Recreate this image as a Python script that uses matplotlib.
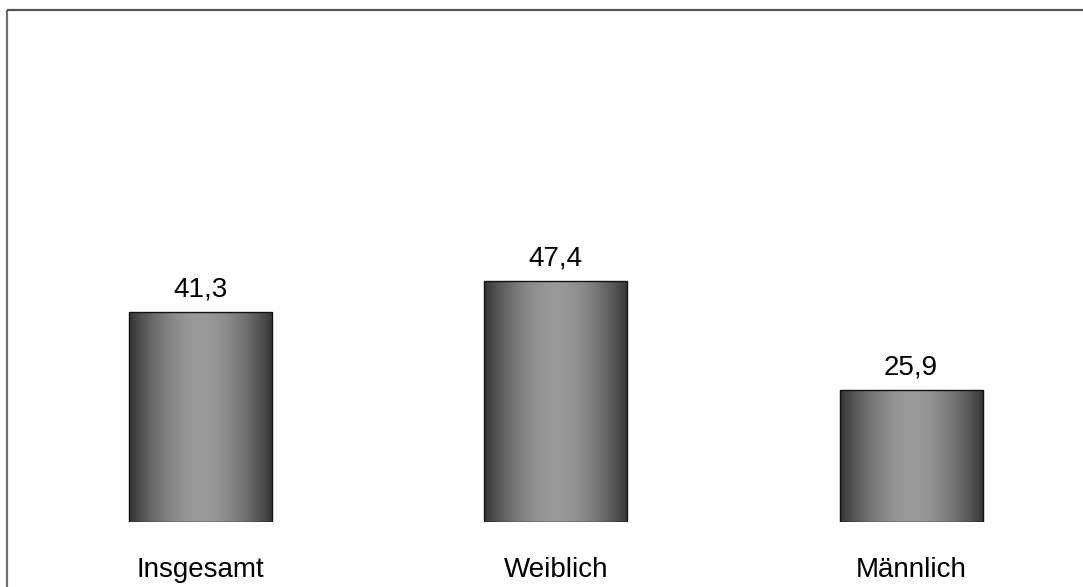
import numpy as np
import matplotlib
matplotlib.use("Agg")
import matplotlib.pyplot as plt
from matplotlib.lines import Line2D

categories = ["Insgesamt", "Weiblich", "Männlich"]
values = [41.3, 47.4, 25.9]
value_labels = ["41,3", "47,4", "25,9"]

plt.rcParams["font.family"] = ["Liberation Sans", "DejaVu Sans"]

W, H = 1083, 587
fig = plt.figure(figsize=(W / 100, H / 100), dpi=100)
fig.patch.set_facecolor("white")

# axes: left edge at x=7px, top at y=10px, baseline at y=521.7px
x0, y_top, y_base = 7, 10, 521.7
ax = fig.add_axes([x0 / W, (H - y_base) / H, (W - x0) / W, (y_base - y_top) / H])
px_per_unit = 5.07
ax.set_ylim(0, (y_base - y_top) / px_per_unit)
spacing = 355.3
ax.set_xlim(-(200.5 - x0) / spacing, (W - 200.5) / spacing)
ax.axis("off")

# frame around the chart area (clipped at right and bottom)
fig.add_artist(Line2D([x0 / W, x0 / W], [0, (H - y_top) / H], color="#6e6e6e", lw=1.6,
                      transform=fig.transFigure, solid_capstyle="butt"))
fig.add_artist(Line2D([x0 / W, 1.0], [(H - y_top) / H, (H - y_top) / H], color="#555555",
                      lw=1.6, transform=fig.transFigure, solid_capstyle="butt"))

# horizontal gradient: dark edges, light centre
t = np.linspace(0, 1, 256)
dark, light = 0.20, 0.60
shade = dark + (light - dark) * np.sin(np.pi * t) ** 0.9
grad = np.tile(shade, (2, 1))

xs = np.arange(len(categories))
width = 0.4025
bars = ax.bar(xs, values, width=width, facecolor="none", edgecolor="#111111",
              linewidth=1.0, zorder=3)
for bar in bars:
    bx, by = bar.get_x(), bar.get_y()
    bw, bh = bar.get_width(), bar.get_height()
    im = ax.imshow(grad, cmap="gray", vmin=0, vmax=1, aspect="auto",
                   extent=[bx, bx + bw, by, by + bh], interpolation="bilinear", zorder=2)
    im.set_clip_path(bar)

for x, v, lab in zip(xs, values, value_labels):
    ax.annotate(lab, (x, v), xytext=(0, 16), textcoords="offset pixels",
                ha="center", va="baseline", fontsize=20, color="black")

for x, c in zip(xs, categories):
    ax.annotate(c, (x, 0), xytext=(0, -55), textcoords="offset pixels",
                ha="center", va="baseline", fontsize=20, color="black",
                annotation_clip=False)

fig.savefig("out.png", dpi=100)
